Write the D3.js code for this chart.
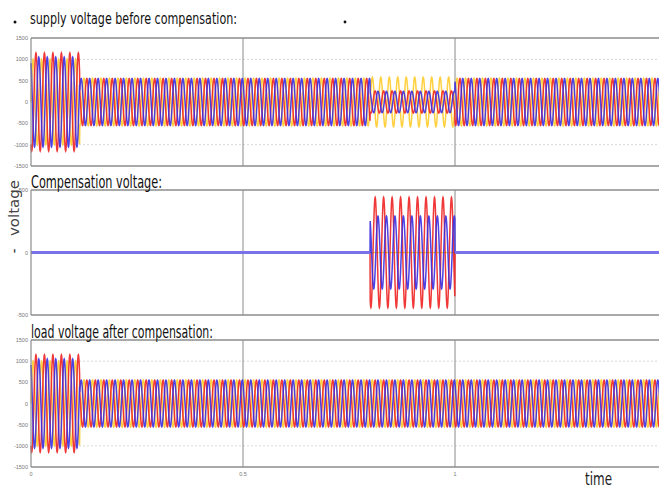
<!DOCTYPE html>
<html>
<head>
<meta charset="utf-8">
<script src="https://cdn.jsdelivr.net/npm/d3@7"></script>
<style>
  body { margin: 0; background: #fff; }
  svg { display: block; }
</style>
</head>
<body>
<div id="chart"></div>
<script>
// --- data ---
var freqHz = 50;
var timeDomain = [0, 1.5];
var xTickValues = [0, 0.5, 1];
var xTickLabels = ["0", "0.5", "1"];

// envelope breakpoints (s) and the peak voltage of each phase in each segment
var segStart = [0, 0.115, 0.8, 1.0];
var segEnd   = [0.115, 0.8, 1.0, 1.5];
var supplyRed    = [1150, 550, 260, 550];
var supplyBlue   = [1050, 550, 250, 550];
var supplyYellow = [1000, 560, 580, 560];
var compRed      = [0, 0, 440, 0];
var compBlue     = [0, 0, 290, 0];
var compYellow   = [0, 0, 0, 0];
var loadRed      = [1150, 550, 550, 550];
var loadBlue     = [1050, 550, 550, 550];
var loadYellow   = [1000, 560, 560, 560];

var bigTicks = [-1500, -1000, -500, 0, 500, 1000, 1500];
var smallTicks = [-500, 0, 500];

var panelTitles = ["supply voltage before compensation:", "Compensation voltage:", "load voltage after compensation:"];

// --- layout ---
var width = 659, height = 488;
var colors = {red: "#ee2222", blue: "#3a2ee0", yellow: "#ffc81e"};
var phaseShift = {yellow: 0, red: -2 * Math.PI / 3, blue: 2 * Math.PI / 3};
var titleFont = "'Liberation Sans Narrow', 'DejaVu Sans Condensed', 'Open Sans', sans-serif";

var svg = d3.select("#chart").append("svg")
    .attr("width", width).attr("height", height)
    .attr("font-family", "sans-serif");

var x = d3.scaleLinear().domain(timeDomain).range([31, 667]);

var panels = [
  {top: 38, bottom: 166, dom: [-1500, 1500], ticks: bigTicks, grid: [-1000, 1000],
   series: {yellow: supplyYellow, red: supplyRed, blue: supplyBlue},
   tx: 30, ty: 24, tsize: 16, tlen: 207},
  {top: 190, bottom: 315, dom: [-500, 500], ticks: smallTicks, grid: [],
   series: {yellow: compYellow, red: compRed, blue: compBlue},
   tx: 31, ty: 188, tsize: 18, tlen: 131},
  {top: 340, bottom: 467, dom: [-1500, 1500], ticks: bigTicks, grid: [-1000, 1000],
   series: {yellow: loadYellow, red: loadRed, blue: loadBlue},
   tx: 31, ty: 338, tsize: 18, tlen: 182}
];

function ampAt(arr, t){
  for (var i = 0; i < segStart.length; i++){
    if (t >= segStart[i] && t < segEnd[i]) return arr[i];
  }
  return arr[arr.length - 1];
}

var times = d3.range(0, 1.5, 1 / (freqHz * 48));

panels.forEach(function(p, pi){
  var y = d3.scaleLinear().domain(p.dom).range([p.bottom, p.top]);
  var g = svg.append("g");

  // light dotted grid
  g.selectAll("line.h").data(p.grid).enter().append("line")
    .attr("x1", x(0)).attr("x2", width)
    .attr("y1", d => y(d)).attr("y2", d => y(d))
    .attr("stroke", "#d8d8d8").attr("stroke-dasharray", "2,2");
  g.selectAll("line.v").data([0.5, 1]).enter().append("line")
    .attr("x1", d => x(d)).attr("x2", d => x(d))
    .attr("y1", p.top).attr("y2", p.bottom)
    .attr("stroke", "#8a8a8a").attr("stroke-width", 1);

  // waves
  var line = d3.line().x(d => x(d[0])).y(d => y(d[1]));
  ["yellow", "red", "blue"].forEach(function(ph){
    var arr = p.series[ph];
    var pts = times.map(t => [t, ampAt(arr, t) * Math.sin(2 * Math.PI * freqHz * t + phaseShift[ph])]);
    g.append("path").datum(pts)
      .attr("d", line).attr("fill", "none")
      .attr("stroke", colors[ph]).attr("stroke-width", 1.5)
      .attr("stroke-opacity", ph === "yellow" ? 0.85 : 0.9);
  });
  if (pi === 1){
    g.append("line").attr("x1", x(0)).attr("x2", x(0.8))
      .attr("y1", y(0)).attr("y2", y(0))
      .attr("stroke", "#7a72e8").attr("stroke-width", 3);
    g.append("line").attr("x1", x(1.0)).attr("x2", width)
      .attr("y1", y(0)).attr("y2", y(0))
      .attr("stroke", "#7a72e8").attr("stroke-width", 3);
  }

  // frame
  g.append("line").attr("x1", x(0)).attr("x2", width).attr("y1", p.top).attr("y2", p.top)
    .attr("stroke", "#8c8c8c").attr("stroke-width", 1.5);
  g.append("line").attr("x1", x(0)).attr("x2", width).attr("y1", p.bottom).attr("y2", p.bottom)
    .attr("stroke", "#8c8c8c").attr("stroke-width", 1.5);
  g.append("line").attr("x1", x(0)).attr("x2", x(0)).attr("y1", p.top).attr("y2", p.bottom)
    .attr("stroke", "#8c8c8c").attr("stroke-width", 1.2);

  // y tick labels
  g.selectAll("text.yt").data(p.ticks).enter().append("text")
    .attr("x", x(0) - 3).attr("y", d => y(d) + 2)
    .attr("text-anchor", "end").attr("font-size", 5.5).attr("fill", "#777")
    .text(d => d);

  // title
  svg.append("text")
    .attr("x", p.tx).attr("y", p.ty)
    .attr("font-family", titleFont)
    .attr("font-size", p.tsize).attr("fill", "#111")
    .attr("textLength", p.tlen).attr("lengthAdjust", "spacingAndGlyphs")
    .text(panelTitles[pi]);
});

// x tick labels under the last panel
svg.selectAll("text.xt").data(xTickValues).enter().append("text")
  .attr("x", d => x(d)).attr("y", 476)
  .attr("text-anchor", "middle").attr("font-size", 5.5).attr("fill", "#777")
  .text((d, i) => xTickLabels[i]);

svg.append("text").attr("x", 585).attr("y", 485)
  .attr("font-family", titleFont)
  .attr("font-size", 17).attr("fill", "#222")
  .attr("textLength", 27).attr("lengthAdjust", "spacingAndGlyphs")
  .text("time");

svg.append("text")
  .attr("transform", "translate(19,208) rotate(-90)")
  .attr("text-anchor", "middle")
  .attr("font-family", "'DejaVu Sans', sans-serif")
  .attr("font-size", 14).attr("fill", "#444")
  .attr("textLength", 56).attr("lengthAdjust", "spacingAndGlyphs")
  .text("voltage");
svg.append("text")
  .attr("transform", "translate(19,251) rotate(-90)")
  .attr("text-anchor", "middle")
  .attr("font-size", 14).attr("fill", "#222").text("-");

// stray dots in the title row
svg.append("circle").attr("cx", 15).attr("cy", 22).attr("r", 1.5).attr("fill", "#111");
svg.append("circle").attr("cx", 345).attr("cy", 22).attr("r", 1.4).attr("fill", "#111");
</script>
</body>
</html>
